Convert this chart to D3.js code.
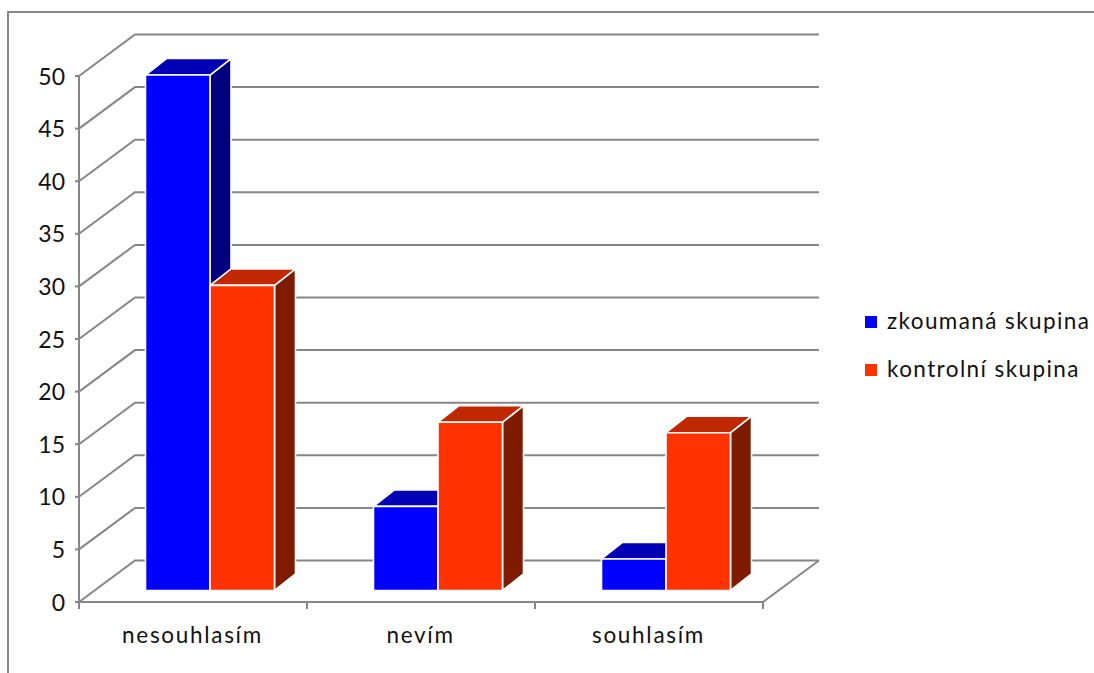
<!DOCTYPE html>
<html lang="cs">
<head>
<meta charset="utf-8">
<title>Odpovědi podle skupin</title>
<script src="https://cdn.jsdelivr.net/npm/d3@7/dist/d3.min.js"></script>
<style>
html,body{margin:0;padding:0;background:#fff;overflow:hidden}
text{font-family:Lato,"Open Sans",sans-serif;fill:#111}
</style>
</head>
<body>
<svg id="chart" width="1094" height="673"></svg>
<script>
// Data
const categories = ["nesouhlasím", "nevím", "souhlasím"];
const seriesNames = ["zkoumaná skupina", "kontrolní skupina"];
const zkoumana = [49, 8, 3];
const kontrolni = [29, 16, 15];
const yTicks = [0, 5, 10, 15, 20, 25, 30, 35, 40, 45, 50];

// Palette: front, top and side face per series
const faces = [
  {front: "#0000ff", top: "#0000b4", side: "#00007f"},
  {front: "#ff3300", top: "#bf2800", side: "#7f1b00"}
];
const gridColor = "#868686";

const svg = d3.select("#chart");

// Oblique projection of the plot box
const wallDx = 56, wallDy = -41.5;
const x = d3.scaleBand().domain(categories).range([79, 763]);
const y = d3.scaleLinear().domain([0, 50]).range([602, 76]);
const inner = d3.scaleBand().domain([0, 1]).range([0, 129]);

// Bars sit part of the way into the floor depth
const barInset = {dx: 16, dy: -11.5};
const barDepth = {dx: 21, dy: -16.5};
const barPad = 50.5;

// Outer frame of the chart area
svg.append("path")
  .attr("d", "M8,673V12H1094")
  .attr("fill", "none").attr("stroke", gridColor).attr("stroke-width", 2);

const gridLayer = svg.append("g")
  .attr("fill", "none").attr("stroke", gridColor).attr("stroke-width", 2);

// Back wall grid and side wall diagonals
yTicks.forEach(t => {
  const py = y(t);
  gridLayer.append("path")
    .attr("d", `M${x.range()[0]},${py}l${wallDx},${wallDy}H${x.range()[1] + wallDx}`);
});

// Axes
gridLayer.append("line")
  .attr("x1", 79).attr("x2", 79).attr("y1", y(50)).attr("y2", y(0));
gridLayer.append("line")
  .attr("x1", 79).attr("x2", 763).attr("y1", y(0)).attr("y2", y(0));
gridLayer.append("line")
  .attr("x1", 763).attr("y1", y(0))
  .attr("x2", 763 + wallDx).attr("y2", y(0) + wallDy);
yTicks.forEach(t => {
  gridLayer.append("line")
    .attr("x1", 75).attr("x2", 79).attr("y1", y(t)).attr("y2", y(t));
});
[...categories.map(c => x(c)), x.range()[1]].forEach(px => {
  gridLayer.append("line")
    .attr("x1", px).attr("x2", px).attr("y1", y(0)).attr("y2", y(0) + 7);
});

// Value labels
svg.append("g").selectAll("text").data(yTicks).join("text")
  .attr("x", 65).attr("y", d => y(d) + 8.5)
  .attr("text-anchor", "end")
  .attr("font-size", 23)
  .text(d => d);

// Category labels
svg.append("g").selectAll("text").data(categories).join("text")
  .attr("x", d => x(d) + x.bandwidth() / 2 - 0.5).attr("y", 643)
  .attr("text-anchor", "middle")
  .attr("font-size", 22.5)
  .attr("letter-spacing", 1.7)
  .text(d => d);

// One 3D column: side, top, then front face
function drawBar(g, cat, value, s) {
  const left = x(cat) + barInset.dx + barPad + inner(s);
  const w = inner.bandwidth();
  const base = y(0) + barInset.dy;
  const h = y(0) - y(value);
  const t = base - h;
  const dx = barDepth.dx, dy = barDepth.dy;
  const col = faces[s];
  const bar = g.append("g").attr("stroke", "#fff").attr("stroke-width", 1.6)
    .attr("stroke-linejoin", "round");
  bar.append("path").attr("fill", col.side)
    .attr("d", `M${left + w},${t}l${dx},${dy}V${base + dy}L${left + w},${base}Z`);
  bar.append("path").attr("fill", col.top)
    .attr("d", `M${left},${t}l${dx},${dy}h${w}l${-dx},${-dy}Z`);
  bar.append("rect").attr("fill", col.front)
    .attr("x", left).attr("y", t).attr("width", w).attr("height", h);
}

const barLayer = svg.append("g");
categories.forEach((c, i) => {
  drawBar(barLayer, c, zkoumana[i], 0);
  drawBar(barLayer, c, kontrolni[i], 1);
});

// Legend
const legendY = d3.scaleOrdinal().domain(seriesNames).range([322, 370]);
const legend = svg.append("g").selectAll("g").data(seriesNames).join("g");
legend.append("rect")
  .attr("x", 865).attr("y", d => legendY(d) - 6)
  .attr("width", 12).attr("height", 12)
  .attr("fill", (d, i) => faces[i].front);
legend.append("text")
  .attr("x", 887).attr("y", d => legendY(d) + 7)
  .attr("font-size", 22.5)
  .attr("letter-spacing", 1.4)
  .text(d => d);
</script>
</body>
</html>
